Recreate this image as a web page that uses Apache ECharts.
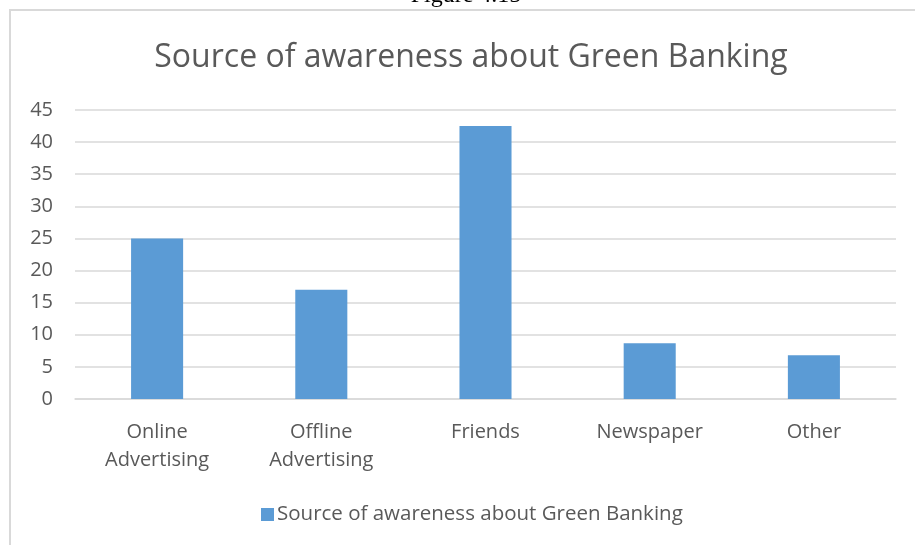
<!DOCTYPE html>
<html>
<head>
<meta charset="utf-8">
<script src="https://cdn.jsdelivr.net/npm/echarts@6/dist/echarts.min.js"></script>
<style>
  html, body { margin: 0; padding: 0; background: #fff; }
  #chart { width: 915px; height: 545px; }
</style>
</head>
<body>
<div id="chart"></div>
<script>
// Survey shares (%) by awareness source
const categories = ['Online\nAdvertising', 'Offline\nAdvertising', 'Friends', 'Newspaper', 'Other'];
const shares = [25, 17, 42.5, 8.7, 6.8];
const seriesName = 'Source of awareness about Green Banking';
const yTicks = { min: 0, max: 45, step: 5 };

const FONT = '"Open Sans"';
const TEXT = '#595959';
const GRID_LINE = '#d9d9d9';
const BAR = '#5b9bd5';

const chart = echarts.init(document.getElementById('chart'), null, { renderer: 'canvas' });

chart.setOption({
  backgroundColor: '#ffffff',
  animation: false,
  graphic: [
    {
      // chart frame
      type: 'rect',
      shape: { x: 10, y: 10, width: 920, height: 560 },
      style: { fill: 'none', stroke: GRID_LINE, lineWidth: 2 },
      silent: true
    },
    {
      // caption line above the frame
      type: 'text',
      x: 466, y: 7.5,
      style: {
        text: 'Figure 4.15',
        font: '24px "Liberation Serif"',
        fill: '#000',
        textAlign: 'center',
        textVerticalAlign: 'bottom'
      }
    }
  ],
  title: {
    text: seriesName,
    left: 466,
    textAlign: 'center',
    top: 37,
    textStyle: { fontFamily: FONT, fontSize: 32, fontWeight: 'normal', color: TEXT }
  },
  legend: {
    bottom: 15,
    left: 256,
    icon: 'rect',
    itemWidth: 13,
    itemHeight: 13,
    itemGap: 10,
    textStyle: { fontFamily: FONT, fontSize: 20.5, color: TEXT, padding: [0, 0, 0, -2] },
    data: [seriesName]
  },
  grid: { left: 75, right: 19, top: 110, bottom: 146 },
  xAxis: {
    type: 'category',
    data: categories,
    axisLine: { lineStyle: { color: GRID_LINE, width: 1.5 } },
    axisTick: { show: false },
    axisLabel: {
      fontFamily: FONT, fontSize: 20, color: TEXT, lineHeight: 28, margin: 19, interval: 0
    }
  },
  yAxis: {
    type: 'value',
    min: yTicks.min,
    max: yTicks.max,
    interval: yTicks.step,
    axisLine: { show: false },
    axisTick: { show: false },
    splitLine: { lineStyle: { color: GRID_LINE, width: 1.5 } },
    axisLabel: { fontFamily: FONT, fontSize: 20, color: TEXT, margin: 22 }
  },
  series: [{
    name: seriesName,
    type: 'bar',
    data: shares,
    barWidth: '31.7%',
    itemStyle: { color: BAR }
  }]
});
</script>
</body>
</html>
